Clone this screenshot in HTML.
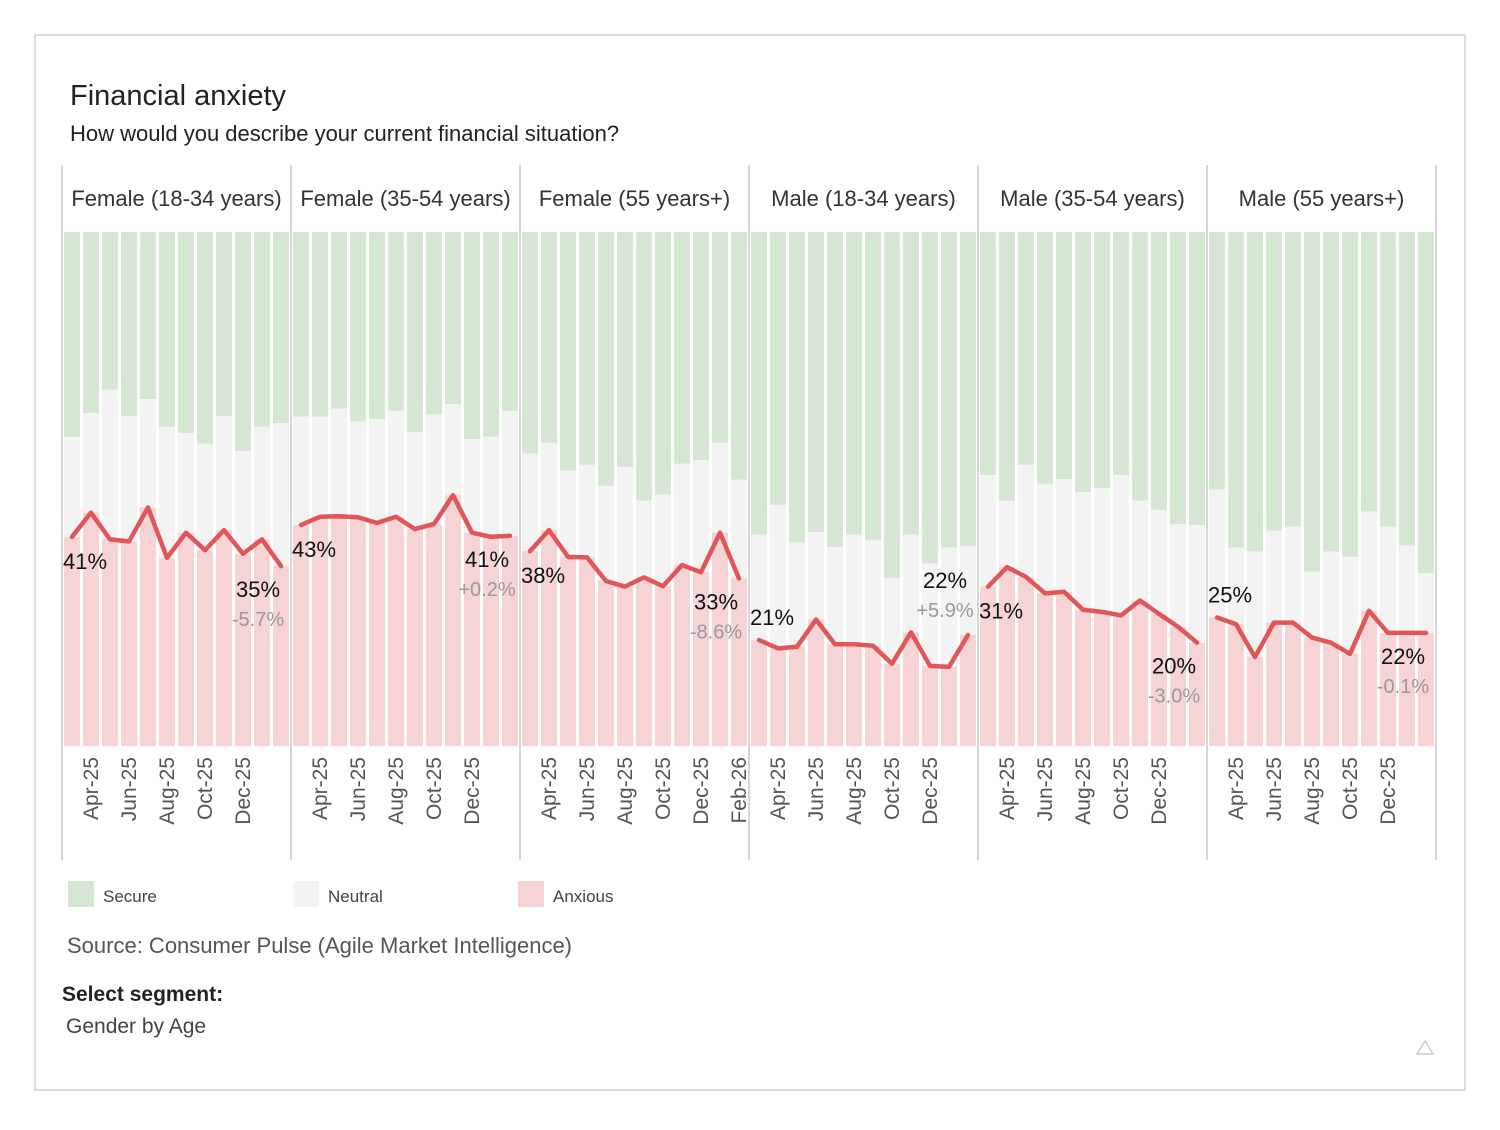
<!DOCTYPE html>
<html><head><meta charset="utf-8">
<style>
body{margin:0;background:#fff;font-family:"Liberation Sans",sans-serif;}
#wrap{position:relative;width:1500px;height:1125px;}
</style></head>
<body>
<div id="wrap">
<svg id="chart" width="1500" height="1125" xmlns="http://www.w3.org/2000/svg">
<rect x="35" y="35" width="1430" height="1055" fill="#fff" stroke="#dcdcdc" stroke-width="2"/>
<text x="70" y="105" font-size="29" fill="#222">Financial anxiety</text>
<text x="70" y="141" font-size="22" fill="#222">How would you describe your current financial situation?</text>
<g id="panels"></g>
<g>
<g><rect x="68" y="881" width="26" height="26" fill="#d5e6d3"/><text x="103" y="902" font-size="17" fill="#444">Secure</text></g>
<g><rect x="293" y="881" width="26" height="26" fill="#f3f3f3"/><text x="328" y="902" font-size="17" fill="#444">Neutral</text></g>
<g><rect x="518" y="881" width="26" height="26" fill="#f6d3d5"/><text x="553" y="902" font-size="17" fill="#444">Anxious</text></g>
</g>
<text x="67" y="953" font-size="22" fill="#555">Source: Consumer Pulse (Agile Market Intelligence)</text>
<text x="62" y="1001" font-size="21" font-weight="bold" fill="#222">Select segment:</text>
<text x="66" y="1033" font-size="21" fill="#444">Gender by Age</text>
<polygon points="1425,1041 1433,1054 1417,1054" fill="none" stroke="#ccc" stroke-width="1.5"/>
</svg>
</div>
<script>
const segments = ["Female (18-34 years)","Female (35-54 years)","Female (55 years+)","Male (18-34 years)","Male (35-54 years)","Male (55 years+)"];
const months = ["Mar-25","Apr-25","May-25","Jun-25","Jul-25","Aug-25","Sep-25","Oct-25","Nov-25","Dec-25","Jan-26","Feb-26"];
const anxious = [
 [40.7,45.4,40.2,39.8,46.4,36.6,41.5,38.1,42.0,37.4,40.2,35.0],
 [43.0,44.6,44.7,44.5,43.4,44.6,42.2,43.2,48.8,41.5,40.7,40.9],
 [37.9,42.0,36.8,36.7,32.1,31.0,32.8,31.1,35.2,33.8,41.5,32.6],
 [20.6,19.0,19.3,24.6,19.8,19.8,19.5,16.0,22.1,15.6,15.4,21.6],
 [31.0,34.8,32.9,29.7,30.0,26.5,26.1,25.4,28.3,25.7,23.2,20.1],
 [25.0,23.7,17.3,24.0,24.0,21.1,20.1,17.9,26.3,22.0,22.0,22.0]
];
const secure = [
 [39.9,35.2,30.7,35.8,32.5,37.9,39.1,41.2,35.8,42.6,37.9,37.2],
 [35.9,35.9,34.4,36.9,36.4,34.8,38.9,35.5,33.5,40.3,39.8,34.8],
 [43.1,41.0,46.4,45.3,49.4,45.7,52.3,51.1,45.1,44.4,41.0,48.2],
 [58.9,53.1,60.4,58.4,61.3,58.9,59.9,67.3,58.9,64.5,61.4,61.1],
 [47.3,52.3,45.3,49.0,48.1,50.6,49.8,47.3,52.3,54.1,56.8,57.0],
 [50.1,61.4,62.2,58.1,57.3,66.1,62.2,63.2,54.4,57.3,61.0,66.4]
];
const changeLabels = ["-5.7%","+0.2%","-8.6%","+5.9%","-3.0%","-0.1%"];
const tickMonthsDefault = ["Apr-25","Jun-25","Aug-25","Oct-25","Dec-25"];
const tickMonthsExtra = ["Apr-25","Jun-25","Aug-25","Oct-25","Dec-25","Feb-26"];
// label placement (layout, not data): +1 below point, -1 above
const firstLabelSide = [1,1,1,-1,1,-1];
const lastLabelSide = [1,1,1,-1,1,1];

const NS="http://www.w3.org/2000/svg";
const g=document.getElementById('panels');
const PL=62, PW=229, TOP=232, BOT=746, STEP=19, BW=16;
const y = v => BOT - v/100*(BOT-TOP);
const px = i => PL + i*PW;
const bx = (p,i) => px(p) + 2 + i*STEP;
function mk(tag,attrs){const e=document.createElementNS(NS,tag);for(const k in attrs)e.setAttribute(k,attrs[k]);return e;}

segments.forEach((seg,p)=>{
  const pg=mk('g',{});
  
  
  g.appendChild(pg);
  const h=mk('text',{x:px(p)+PW/2,y:206,'font-size':22,fill:'#333','text-anchor':'middle'});
  h.textContent=seg;
  
  
  pg.appendChild(h);
  months.forEach((m,i)=>{
    const a=anxious[p][i], s=secure[p][i], x=bx(p,i);
    const r1=mk('rect',{x:x,y:TOP,width:BW,height:y(100-s)-TOP,fill:'#d5e6d3'});
    
    
    const r2=mk('rect',{x:x,y:y(100-s),width:BW,height:y(a)-y(100-s),fill:'#f3f3f3'});
    
    
    const r3=mk('rect',{x:x,y:y(a),width:BW,height:BOT-y(a),fill:'#f6d3d5'});
    
    
    pg.appendChild(r1);pg.appendChild(r2);pg.appendChild(r3);
  });
  const ticks = p===2 ? tickMonthsExtra : tickMonthsDefault;
  ticks.forEach(t=>{
    const i=months.indexOf(t); const cx=bx(p,i)+BW/2+7;
    const tx=mk('text',{x:cx,y:757,'font-size':21,fill:'#555','text-anchor':'end',transform:`rotate(-90 ${cx} 757)`});
    tx.textContent=t;
    
    
    pg.appendChild(tx);
  });
  const pts=anxious[p].map((v,i)=>(bx(p,i)+BW/2)+','+y(v)).join(' ');
  const pl=mk('polyline',{points:pts,fill:'none',stroke:'#e05659','stroke-width':4.5,'stroke-linejoin':'round','stroke-linecap':'round'});
  
  
  pg.appendChild(pl);
  const f=anxious[p][0];
  const fl=mk('text',{x:px(p)+1,y:y(f)+(firstLabelSide[p]>0?32:-15),'font-size':22,fill:'#111'});
  fl.textContent=Math.round(f)+'%';
  
  
  pg.appendChild(fl);
  const l=anxious[p][11]; const lx=bx(p,10)+BW/2-4;
  const ly = lastLabelSide[p]>0 ? y(l)+31 : y(l)-47;
  const ll=mk('text',{x:lx,y:ly,'font-size':22,fill:'#111','text-anchor':'middle'});
  ll.textContent=Math.round(l)+'%';
  
  
  pg.appendChild(ll);
  const cl=mk('text',{x:lx,y:ly+29,'font-size':20,fill:'#999','text-anchor':'middle'});
  cl.textContent=changeLabels[p];
  
  
  pg.appendChild(cl);
});
for(let p=0;p<=6;p++){
  const ln=mk('line',{x1:px(p),x2:px(p),y1:165,y2:860,stroke:'#c8c8c8','stroke-width':1.5});
  
  
  g.appendChild(ln);
}
</script>
</body></html>
